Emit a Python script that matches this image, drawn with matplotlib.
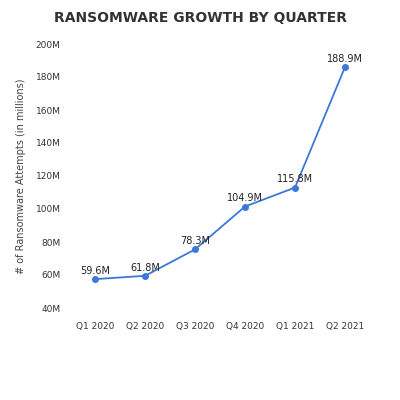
import matplotlib.pyplot as plt

quarters = ['Q1 2020', 'Q2 2020', 'Q3 2020', 'Q4 2020', 'Q1 2021', 'Q2 2021']
attempts = [57.5, 59.5, 75.5, 101.5, 113.0, 186.0]
labels = ['59.6M', '61.8M', '78.3M', '104.9M', '115.8M', '188.9M']
yticks = [40, 60, 80, 100, 120, 140, 160, 180, 200]

fig = plt.figure(figsize=(4, 4), dpi=100)
ax = fig.add_axes([0.2, 0.23, 0.7, 0.66])
x = range(len(quarters))
ax.plot(x, attempts, color='#3c78d8', linewidth=1.3, marker='o', markersize=4)
for i, (v, t) in enumerate(zip(attempts, labels)):
    ax.text(i, v + 2, t, ha='center', va='bottom', fontsize=7, color='#222222')

ax.set_xlim(-0.3, 5.3)
ax.set_ylim(40, 200)
ax.set_xticks(list(x))
ax.set_xticklabels(quarters, fontsize=6.5, color='#333333')
ax.set_yticks(yticks)
ax.set_yticklabels([f'{t}M' for t in yticks], fontsize=6.5, color='#333333')
ax.tick_params(length=0, pad=14)
ax.tick_params(axis='x', pad=10)
for s in ax.spines.values():
    s.set_visible(False)
ax.set_ylabel('# of Ransomware Attempts (in millions)', fontsize=7, color='#444444', labelpad=7)
fig.text(0.5, 0.955, 'RANSOMWARE GROWTH BY QUARTER', ha='center', va='center',
         fontsize=10, fontweight='bold', color='#333333')

fig.savefig('out.png')
